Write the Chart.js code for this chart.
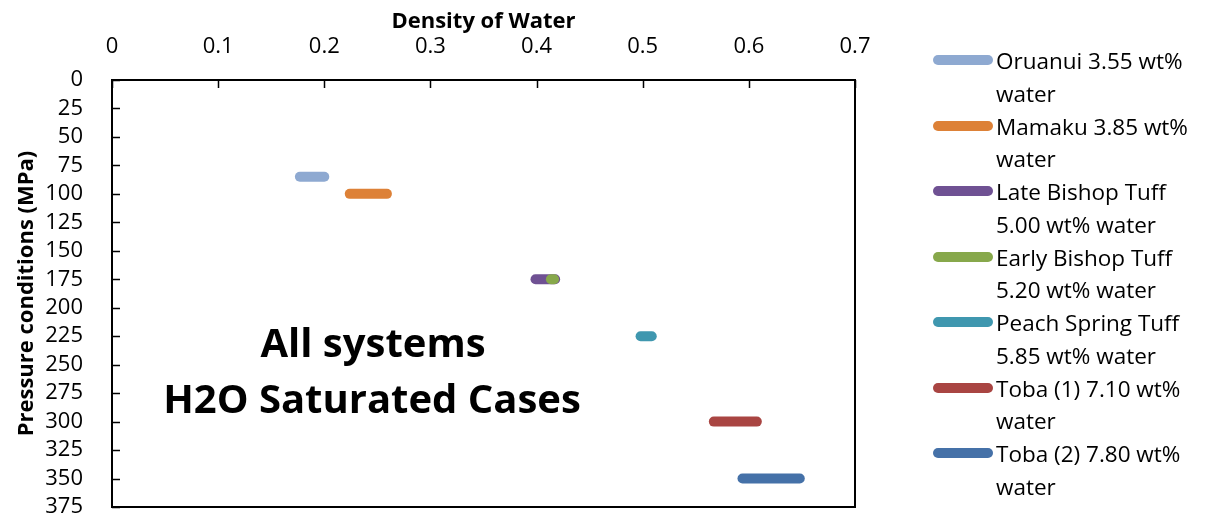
<!DOCTYPE html>
<html>
<head>
<meta charset="utf-8">
<script src="https://cdn.jsdelivr.net/npm/chart.js@4.4.1/dist/chart.umd.min.js"></script>
<style>
  html, body { margin: 0; padding: 0; background: #fff; }
  #wrap { position: relative; width: 1207px; height: 523px; }
  #legend { position: absolute; left: 933px; top: 50px; font-family: "Open Sans", sans-serif; font-size: 22.5px; color: #000; }
  .item { display: flex; align-items: flex-start; height: 65.5px; }
  .swatch { width: 60px; height: 10px; border-radius: 5px; margin-top: 5px; flex: none; }
  .label { width: 210px; line-height: 32.7px; margin-left: 3px; margin-top: -5px; }
</style>
</head>
<body>
<div id="wrap">
  <canvas id="c" width="1207" height="523"></canvas>
  <div id="legend"></div>
</div>
<script>
// ---- data ----
const seriesNames = [
  "Oruanui 3.55 wt% water",
  "Mamaku 3.85 wt% water",
  "Late Bishop Tuff 5.00 wt% water",
  "Early Bishop Tuff 5.20 wt% water",
  "Peach Spring Tuff 5.85 wt% water",
  "Toba (1) 7.10 wt% water",
  "Toba (2) 7.80 wt% water"
];
const densityStart = [0.177, 0.224, 0.399, 0.4135, 0.498, 0.567, 0.594];
const densityEnd   = [0.200, 0.259, 0.4175, 0.4165, 0.5085, 0.6075, 0.648];
const pressure     = [85, 100, 175, 175, 225, 300, 350];
const seriesColors = ["#8EA9D1", "#DD8137", "#6F5193", "#87A84B", "#3F97AF", "#A94542", "#4571A8"];
const xTickValues = [0, 0.1, 0.2, 0.3, 0.4, 0.5, 0.6, 0.7];
const yTickValues = [0, 25, 50, 75, 100, 125, 150, 175, 200, 225, 250, 275, 300, 325, 350, 375];
const annotationLines = ["All systems", "H2O Saturated Cases"];
const xTitle = "Density of Water";
const yTitle = "Pressure conditions (MPa)";

// later series drawn on top (as in the reference)
const datasets = seriesNames.map((n, i) => ({
  label: n,
  data: [{x: densityStart[i], y: pressure[i]}, {x: densityEnd[i], y: pressure[i]}],
  showLine: true,
  order: -i,
  borderColor: seriesColors[i],
  backgroundColor: seriesColors[i],
  borderWidth: 10,
  borderCapStyle: 'round',
  pointRadius: 0,
  pointHoverRadius: 0
}));

const FONT = '"Open Sans", sans-serif';

const framePlugin = {
  id: 'frame',
  beforeDatasetsDraw(chart) {
    const {ctx, chartArea: a, scales} = chart;
    ctx.save();
    ctx.strokeStyle = '#000';
    ctx.lineWidth = 2;
    ctx.strokeRect(a.left, a.top, a.right - a.left, a.bottom - a.top);
    ctx.lineWidth = 1.5;
    ctx.beginPath();
    xTickValues.forEach(v => {
      const px = Math.round(scales.x.getPixelForValue(v)) + 0.5;
      ctx.moveTo(px, a.top); ctx.lineTo(px, a.top + 8);
    });
    yTickValues.forEach(v => {
      const py = Math.round(scales.y.getPixelForValue(v)) + 0.5;
      ctx.moveTo(a.left, py); ctx.lineTo(a.left + 8, py);
    });
    ctx.stroke();
    ctx.restore();
  },
  afterDraw(chart) {
    const {ctx} = chart;
    ctx.save();
    ctx.fillStyle = '#000';
    ctx.textAlign = 'center';
    ctx.textBaseline = 'alphabetic';
    ctx.font = 'bold 40px ' + FONT;
    ctx.fillText(annotationLines[0], 373, 357);
    ctx.fillText(annotationLines[1], 372, 413);
    ctx.restore();
  }
};

new Chart(document.getElementById('c'), {
  type: 'scatter',
  data: { datasets },
  plugins: [framePlugin],
  options: {
    responsive: false,
    animation: false,
    layout: { padding: { left: 0, top: 0, right: 352, bottom: 16 } },
    plugins: { legend: { display: false }, tooltip: { enabled: false } },
    scales: {
      x: {
        type: 'linear', position: 'top', min: 0, max: 0.7,
        afterBuildTicks: s => { s.ticks = xTickValues.map(v => ({value: v})); },
        afterFit: s => { s.height = 80; s.paddingLeft = 0; s.paddingRight = 0; },
        ticks: { color: '#000', font: { family: FONT, size: 22 }, padding: 20, autoSkip: false, maxRotation: 0, callback: v => String(v) },
        grid: { drawOnChartArea: false, drawTicks: false },
        border: { display: false },
        title: { display: true, text: xTitle, color: '#000', font: { family: FONT, size: 22, weight: 'bold' }, padding: { top: 9, bottom: 0 } }
      },
      y: {
        type: 'linear', position: 'left', reverse: true, min: 0, max: 375,
        afterBuildTicks: s => { s.ticks = yTickValues.map(v => ({value: v})); },
        afterFit: s => { s.width = 112; s.paddingTop = 0; s.paddingBottom = 0; },
        ticks: { color: '#000', font: { family: FONT, size: 22 }, padding: 29, autoSkip: false },
        grid: { drawOnChartArea: false, drawTicks: false },
        border: { display: false },
        title: { display: true, text: yTitle, color: '#000', font: { family: FONT, size: 22, weight: 'bold' }, padding: { top: 14, bottom: 0 } }
      }
    }
  }
});

// HTML legend built from the series arrays
const lg = document.getElementById('legend');
seriesNames.forEach((n, i) => {
  const it = document.createElement('div'); it.className = 'item';
  const sw = document.createElement('div'); sw.className = 'swatch'; sw.style.background = seriesColors[i];
  const lb = document.createElement('div'); lb.className = 'label'; lb.textContent = n;
  it.appendChild(sw); it.appendChild(lb); lg.appendChild(it);
});
</script>
</body>
</html>
